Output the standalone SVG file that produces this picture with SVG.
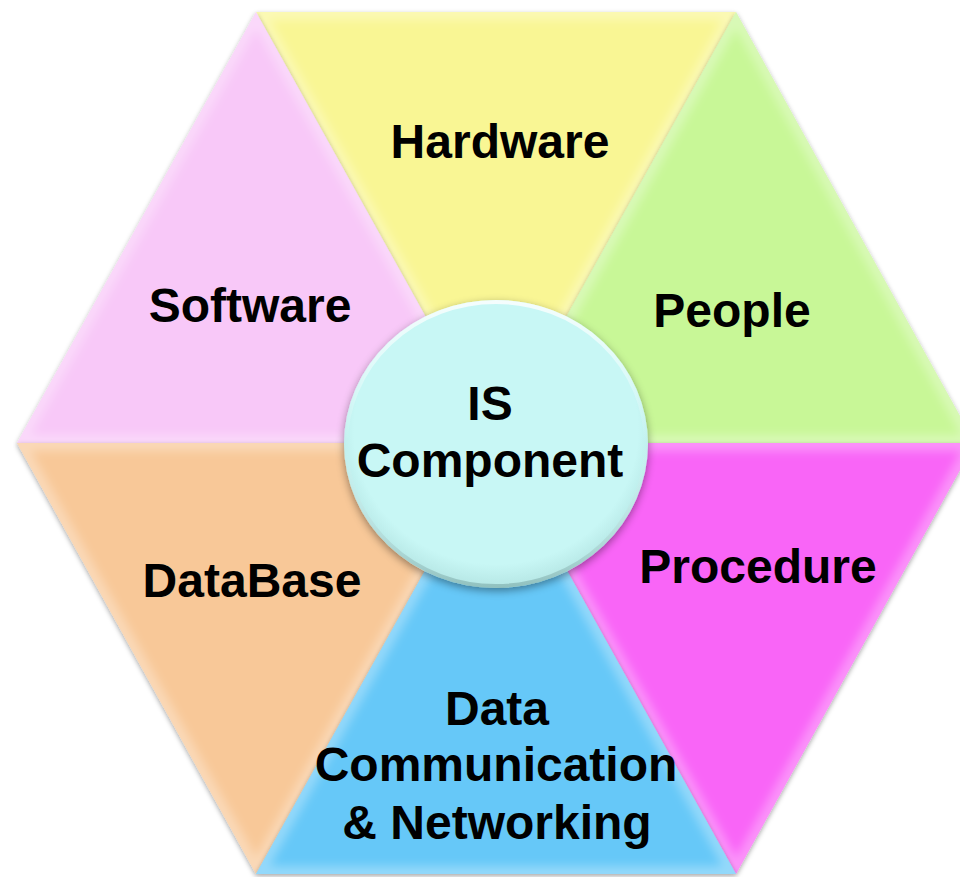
<svg xmlns="http://www.w3.org/2000/svg" width="960" height="877" viewBox="0 0 960 877">
<defs>
<style>
.lbl{font-family:"Liberation Sans",Arial,sans-serif;font-weight:bold;font-size:48px;fill:#000;text-anchor:middle}
.hl{fill:none;stroke:#ffffff;stroke-opacity:0.3;stroke-width:16;filter:url(#soft)}
</style>
<filter id="shadow" x="-10%" y="-10%" width="120%" height="120%">
<feDropShadow dx="0" dy="2" stdDeviation="2.5" flood-color="#000" flood-opacity="0.35"/>
</filter>
<filter id="soft" x="-10%" y="-10%" width="120%" height="120%">
<feGaussianBlur stdDeviation="5"/>
</filter>
<filter id="cshadow" x="-20%" y="-20%" width="140%" height="140%">
<feDropShadow dx="0" dy="3" stdDeviation="4" flood-color="#000" flood-opacity="0.4"/>
</filter>
<radialGradient id="cg" cx="50%" cy="45%" r="55%">
<stop offset="0.85" stop-color="#c8f7f5"/>
<stop offset="1" stop-color="#b5e6e4"/>
</radialGradient>
<linearGradient id="rim" x1="0" y1="0" x2="0" y2="1">
<stop offset="0" stop-color="#ffffff" stop-opacity="0.8"/>
<stop offset="0.5" stop-color="#ffffff" stop-opacity="0"/>
<stop offset="1" stop-color="#7aa9a7" stop-opacity="0.6"/>
</linearGradient>
<clipPath id="cpT"><polygon points="256,12 736,12 496,443"/></clipPath>
<clipPath id="cpUR"><polygon points="736,12 975,443 496,443"/></clipPath>
<clipPath id="cpLR"><polygon points="975,443 736,874 496,443"/></clipPath>
<clipPath id="cpB"><polygon points="736,874 256,874 496,443"/></clipPath>
<clipPath id="cpLL"><polygon points="256,874 17,443 496,443"/></clipPath>
<clipPath id="cpUL"><polygon points="17,443 256,12 496,443"/></clipPath>
</defs>
<rect width="960" height="877" fill="#ffffff"/>
<g id="hardware">
<polygon points="256,12 736,12 496,443" fill="#f9f694" filter="url(#shadow)"/>
<polygon class="hl" clip-path="url(#cpT)" points="256,12 736,12 496,443"/>
<text class="lbl" x="500" y="158">Hardware</text>
</g>
<g id="people">
<polygon points="736,12 975,443 496,443" fill="#c8f797" filter="url(#shadow)"/>
<polygon class="hl" clip-path="url(#cpUR)" points="736,12 975,443 496,443"/>
<text class="lbl" x="732" y="327">People</text>
</g>
<g id="software">
<polygon points="17,443 256,12 496,443" fill="#f8c8f8" filter="url(#shadow)"/>
<polygon class="hl" clip-path="url(#cpUL)" points="17,443 256,12 496,443"/>
<text class="lbl" x="250" y="322">Software</text>
</g>
<g id="procedure">
<polygon points="975,443 736,874 496,443" fill="#f965f7" filter="url(#shadow)"/>
<polygon class="hl" clip-path="url(#cpLR)" points="975,443 736,874 496,443"/>
<text class="lbl" x="758" y="583">Procedure</text>
</g>
<g id="database">
<polygon points="256,874 17,443 496,443" fill="#f8c898" filter="url(#shadow)"/>
<polygon class="hl" clip-path="url(#cpLL)" points="256,874 17,443 496,443"/>
<text class="lbl" x="252" y="597">DataBase</text>
</g>
<g id="datacomm">
<polygon points="736,874 256,874 496,443" fill="#66c8f8" filter="url(#shadow)"/>
<polygon class="hl" clip-path="url(#cpB)" points="736,874 256,874 496,443"/>
<text class="lbl" x="497" y="725">Data</text>
<text class="lbl" x="496" y="781">Communication</text>
<text class="lbl" x="497" y="839">&amp; Networking</text>
</g>
<g id="connectors"></g>
<g id="is-component">
<ellipse cx="496" cy="444" rx="152" ry="144" fill="url(#cg)" filter="url(#cshadow)"/>
<ellipse cx="496" cy="444" rx="150" ry="142" fill="none" stroke="url(#rim)" stroke-width="4"/>
<text class="lbl" x="490" y="420">IS</text>
<text class="lbl" x="490" y="477">Component</text>
</g>
</svg>
